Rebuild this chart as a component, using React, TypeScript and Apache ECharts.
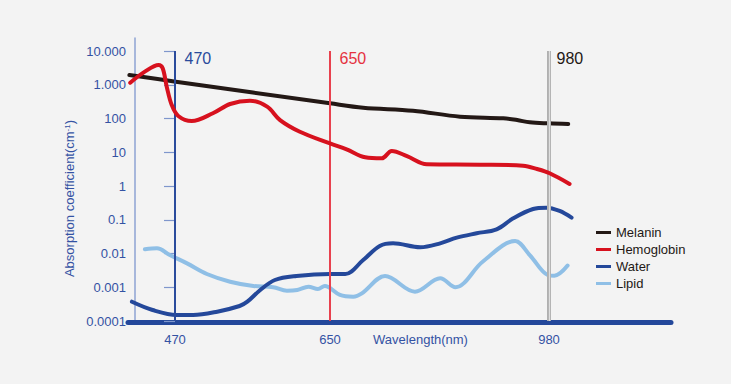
import { useEffect, useRef } from "react";
import * as echarts from "echarts";

// Schematic wavelength axis: the three marked wavelengths and where they sit on the (non-linear) axis
const WAVELENGTH_TICKS = [470, 650, 980];
const TICK_AXIS_POS = [0, 155, 374];
const Y_TICK_LABELS = ["0.0001", "0.001", "0.01", "0.1", "1", "10", "100", "1.000", "10.000"];
const LEGEND_NAMES = ["Melanin", "Hemoglobin", "Water", "Lipid"];

// [wavelength nm, absorption coefficient cm^-1]
const melanin: [number, number][] = [
  [417, 1950], [471, 1230], [650, 282], [700, 209], [775, 170], [846, 113],
  [911, 101], [932, 90], [951, 77], [980, 72], [1009, 69],
];
const hemoglobin: [number, number][] = [
  [418, 1150], [435, 2440], [451, 3850], [455.7, 3070], [460.4, 875], [466.2, 251],
  [473.8, 119], [489.4, 84], [514, 143], [534, 269], [557, 337], [577, 224],
  [592, 90], [615, 40.6], [650, 18.2], [675, 12.2], [703, 7.1], [728, 6.6],
  [743, 10.9], [766, 7.7], [796, 4.4], [876, 4.28], [941, 4.0], [962, 3.19],
  [981, 2.38], [1011, 1.15],
];
const water: [number, number][] = [
  [420, 3.73e-4], [444, 2.12e-4], [472, 1.51e-4], [491, 1.51e-4], [519, 1.89e-4],
  [545, 2.78e-4], [554, 3.73e-4], [569, 8.3e-4], [586, 1.64e-3], [611, 2.15e-3],
  [650, 2.47e-3], [673, 2.47e-3], [700, 6.4e-3], [725, 0.0167], [745, 0.02],
  [786, 0.0153], [816, 0.02], [841, 0.0294], [871, 0.0397], [901, 0.0521],
  [926, 0.11], [956, 0.208], [976, 0.228], [996, 0.182], [1014, 0.115],
];
const lipid: [number, number][] = [
  [435, 0.0133], [449, 0.0143], [464, 0.009], [484, 0.0051], [507, 0.00247],
  [534, 0.00146], [561, 0.00109], [584, 0.001], [600, 0.00079], [612, 0.00083],
  [625, 0.00104], [636, 0.00089], [644, 0.00109], [665, 0.00059], [685, 0.000525],
  [698, 0.00066], [733, 0.00215], [778, 0.00074], [816, 0.00184], [839, 0.001],
  [880, 0.0057], [929, 0.0234], [951, 0.009], [978, 0.00231], [988, 0.0022],
  [1008, 0.0044],
];

const FONT = "'Liberation Sans', Arial, Helvetica, sans-serif";
const AXIS_BLUE = "#3352a3";

function axisPos(w: number): number {
  const s = WAVELENGTH_TICKS;
  const p = TICK_AXIS_POS;
  const i = w < s[1] ? 0 : 1;
  return p[i] + ((w - s[i]) * (p[i + 1] - p[i])) / (s[i + 1] - s[i]);
}

function toData(arr: [number, number][]) {
  return arr.map(([w, v]) => [axisPos(w), v]);
}

function lineSeries(name: string, data: [number, number][], color: string, z: number) {
  return {
    type: "line",
    name,
    data: toData(data),
    xAxisIndex: 0,
    yAxisIndex: 0,
    smooth: 0.35,
    showSymbol: false,
    symbol: "none",
    z,
    color,
    lineStyle: { color, width: 4, cap: "round", join: "round" },
  };
}

export default function App() {
  const ref = useRef<HTMLDivElement>(null);
  useEffect(() => {
    if (!ref.current) return;
    const chart = echarts.init(ref.current, undefined, { renderer: "svg" });
    const labelFor = (v: number) => {
      const i = WAVELENGTH_TICKS.findIndex((w) => Math.abs(axisPos(w) - v) < 0.5);
      return i >= 0 ? String(WAVELENGTH_TICKS[i]) : "";
    };
    chart.setOption({
      animation: false,
      backgroundColor: "#f3f3f3",
      textStyle: { fontFamily: FONT },
      grid: [
        { left: 128, right: 60, top: 51, bottom: 63, outerBoundsMode: "none" },
        { left: 135, width: 10, top: 38, bottom: 63, outerBoundsMode: "none" },
      ],
      legend: {
        data: LEGEND_NAMES,
        orient: "vertical",
        left: 596,
        top: 226,
        padding: 0,
        itemGap: 4,
        itemWidth: 15,
        itemHeight: 3,
        icon: "rect",
        textStyle: { fontSize: 13, color: "#231815", fontFamily: FONT },
      },
      xAxis: [
        {
          gridIndex: 0,
          type: "value",
          min: -47,
          max: 496,
          offset: 1.5,
          axisLine: { show: true, onZero: false, lineStyle: { color: "#23479a", width: 5 } },
          axisTick: { show: false },
          splitLine: { show: false },
          axisLabel: {
            show: true,
            customValues: TICK_AXIS_POS,
            formatter: (v: number) => labelFor(v),
            color: AXIS_BLUE,
            fontSize: 13,
            margin: 10,
            fontFamily: FONT,
          },
          name: "Wavelength(nm)",
          nameLocation: "middle",
          nameGap: 10,
          nameMoveOverlap: false,
          nameTextStyle: {
            color: AXIS_BLUE,
            fontSize: 13,
            fontFamily: FONT,
            padding: [0, 0, 0, 42],
            verticalAlign: "top",
          },
        },
        { gridIndex: 1, type: "value", show: false, min: 0, max: 1 },
      ],
      yAxis: [
        {
          gridIndex: 0,
          type: "log",
          logBase: 10,
          min: 0.0001,
          max: 10000,
          offset: -12,
          axisLine: { show: false },
          axisTick: { show: true, length: 11, lineStyle: { color: "#7f96cc", width: 1.2 } },
          splitLine: { show: false },
          axisLabel: {
            color: AXIS_BLUE,
            fontSize: 13,
            margin: 14,
            fontFamily: FONT,
            formatter: (v: number) => Y_TICK_LABELS[Math.round(Math.log10(v)) + 4] ?? "",
          },
          name: "Absorption coefficient(cm{sup|-1})",
          nameLocation: "middle",
          nameGap: 64,
          nameMoveOverlap: false,
          nameTextStyle: {
            color: AXIS_BLUE,
            fontSize: 13,
            fontFamily: FONT,
            padding: [0, 25, 0, 0],
            rich: { sup: { fontSize: 8, color: AXIS_BLUE, verticalAlign: "top", fontFamily: FONT } },
          },
        },
        {
          gridIndex: 1,
          type: "value",
          min: 0,
          max: 1,
          axisLine: { show: true, lineStyle: { color: "#8ea3d3", width: 1.5 } },
          axisTick: { show: false },
          axisLabel: { show: false },
          splitLine: { show: false },
        },
      ],
      series: [
        lineSeries("Lipid", lipid, "#8fbfe6", 2),
        lineSeries("Water", water, "#24489a", 3),
        lineSeries("Melanin", melanin, "#231815", 4),
        lineSeries("Hemoglobin", hemoglobin, "#d7111e", 5),
        {
          type: "line",
          name: "markers",
          data: [],
          xAxisIndex: 0,
          yAxisIndex: 0,
          z: 6,
          silent: true,
          markLine: {
            symbol: "none",
            silent: true,
            label: { show: false },
            data: [
              { xAxis: axisPos(470), lineStyle: { color: "#2a4b9c", width: 2, type: "solid" } },
              { xAxis: axisPos(650), lineStyle: { color: "#e8414e", width: 2, type: "solid" } },
              { xAxis: axisPos(980), lineStyle: { color: "#b0b0b0", width: 4, type: "solid" } },
              { xAxis: axisPos(980), lineStyle: { color: "#dedede", width: 1.2, type: "solid" } },
            ],
          },
          markPoint: {
            symbol: "rect",
            symbolSize: 1,
            silent: true,
            itemStyle: { color: "rgba(0,0,0,0)" },
            label: {
              show: true,
              position: [10, 0],
              fontSize: 16,
              fontFamily: FONT,
              formatter: (p: any) => String(p.value),
            },
            data: [
              { coord: [axisPos(470), 10000], value: 470, label: { color: "#2a4b9c" } },
              { coord: [axisPos(650), 10000], value: 650, label: { color: "#e5323f" } },
              { coord: [axisPos(980), 10000], value: 980, label: { color: "#231815", position: [8, 0] } },
            ],
          },
        },
      ],
    });
    return () => chart.dispose();
  }, []);
  return (
    <div
      ref={ref}
      style={{ position: "fixed", left: 0, top: 0, width: 731, height: 384, background: "#f3f3f3" }}
    />
  );
}
